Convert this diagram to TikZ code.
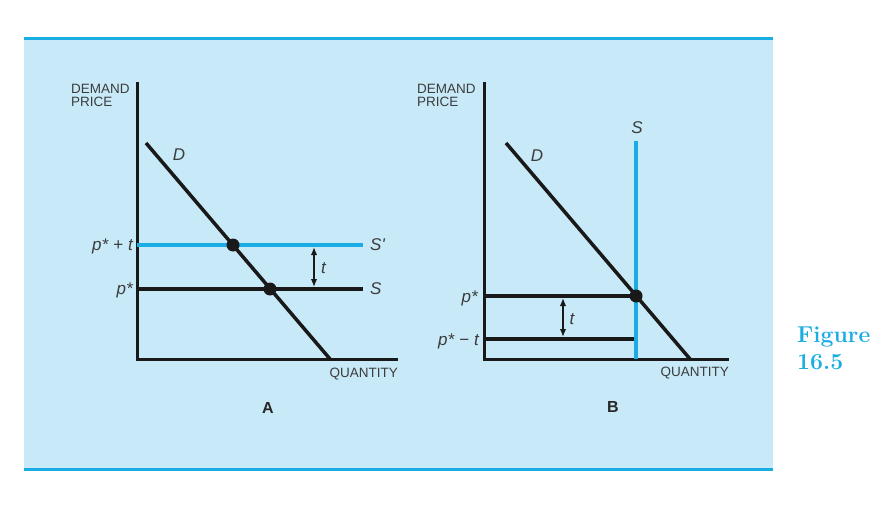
\documentclass[tikz,border=0pt]{standalone}
\usepackage{fontspec}
\newfontfamily\lblfont{Liberation Sans}
\usetikzlibrary{arrows.meta,positioning}
\definecolor{panelblue}{HTML}{C8EAF8}
\definecolor{taxblue}{HTML}{1AADE4}
\definecolor{inkgray}{HTML}{3C3C3C}
\newcommand{\opgap}{\hspace{5pt}}

\begin{document}
\begin{tikzpicture}[x=1pt, y=-1pt,
    axis/.style={line width=3pt, black!90, line join=miter},
    curve/.style={line width=3.5pt, black!90},
    taxline/.style={line width=3.5pt, taxblue},
    dot/.style={circle, fill=black!90, inner sep=0pt, minimum size=13pt},
    gap/.style={{Latex[length=8pt,width=6.5pt]}-{Latex[length=8pt,width=6.5pt]}, line width=1.5pt, black!90},
    lbl/.style={text=inkgray, inner sep=0pt, font=\lblfont\fontsize{13.5}{13}\selectfont},
    sym/.style={text=inkgray, inner sep=0pt, font=\lblfont\itshape\fontsize{17}{18}\selectfont},
    panel/.style={text=black!85, inner sep=0pt, font=\lblfont\bfseries\fontsize{16}{17}\selectfont}]

    \useasboundingbox (0,0) rectangle (896,516);
    \fill[white] (0,0) rectangle (896,516);
    \fill[panelblue] (24,37) rectangle (773,470);
    \draw[taxblue, line width=3pt] (24,38.5) -- (773,38.5);
    \draw[taxblue, line width=3pt] (24,469.5) -- (773,469.5);

    % panel A
    \coordinate (A-top) at (137,82);
    \coordinate (A-org) at (137,359);
    \coordinate (A-end) at (398,359);
    \draw[axis] (A-top) -- (A-org) -- (A-end);
    \node[lbl, align=left, anchor=north west] (A-price) at (71,84) {DEMAND\\PRICE};
    \node[lbl, anchor=east] (A-qty) at (398,374) {QUANTITY};

    \coordinate (A-d1) at (146,143);
    \coordinate (A-d2) at (330,359);
    \coordinate (A-s1) at (137,289);
    \coordinate (A-s2) at (363,289);
    \coordinate (A-t1) at (137,245);
    \coordinate (A-t2) at (363,245);
    \draw[taxline] (A-t1) -- (A-t2);
    \draw[curve] (A-s1) -- (A-s2);
    \draw[curve] (A-d1) -- (A-d2);
    \node[dot] (A-eqt) at (233,245) {};
    \node[dot] (A-eq) at (270,289) {};

    \coordinate (A-g1) at (314,245);
    \coordinate (A-g2) at (314,289);
    \draw[gap, shorten <=2pt, shorten >=2pt] (A-g1) -- (A-g2);
    \node[sym] (A-gt) at (323.5,268) {t};

    \node[sym] (A-D) at (179,155) {D};
    \node[sym, anchor=west] (A-Sp) at (370,245) {S'};
    \node[sym, anchor=west] (A-S) at (370,289) {S};
    \node[sym, anchor=east] (A-pt) at (133,246) {p*\opgap+\opgap t};
    \node[sym, anchor=east] (A-p) at (133,290) {p*};
    \node[panel] (A-name) at (268,408) {A};

    % panel B
    \coordinate (B-top) at (484,82);
    \coordinate (B-org) at (484,359);
    \coordinate (B-end) at (729,359);
    \draw[axis] (B-top) -- (B-org) -- (B-end);
    \node[lbl, align=left, anchor=north west] (B-price) at (417,84) {DEMAND\\PRICE};
    \node[lbl, anchor=east] (B-qty) at (729,373) {QUANTITY};

    \coordinate (B-d1) at (506,143);
    \coordinate (B-d2) at (690,359);
    \coordinate (B-s1) at (636,141);
    \coordinate (B-s2) at (636,359);
    \coordinate (B-p1) at (484,296);
    \coordinate (B-p2) at (636,296);
    \coordinate (B-q1) at (484,339);
    \coordinate (B-q2) at (635,339);
    \draw[curve] (B-p1) -- (B-p2);
    \draw[curve] (B-q1) -- (B-q2);
    \draw[taxline] (B-s1) -- (B-s2);
    \draw[curve] (B-d1) -- (B-d2);
    \node[dot] (B-eq) at (636,296) {};

    \coordinate (B-g1) at (563,296);
    \coordinate (B-g2) at (563,339);
    \draw[gap, shorten <=2pt, shorten >=2pt] (B-g1) -- (B-g2);
    \node[sym] (B-gt) at (572,319) {t};

    \node[sym] (B-D) at (537,156) {D};
    \node[sym] (B-S) at (637,128) {S};
    \node[sym, anchor=east] (B-p) at (478,298) {p*};
    \node[sym, anchor=east] (B-pt) at (479,341) {p*\opgap−\opgap t};
    \node[panel] (B-name) at (613,407) {B};

    % caption
    \node[text=taxblue, inner sep=0pt, anchor=north west, align=left,
          font=\bfseries\fontsize{23}{27}\selectfont] (fig) at (797,327) {Figure\\16.5};
\end{tikzpicture}
\end{document}
